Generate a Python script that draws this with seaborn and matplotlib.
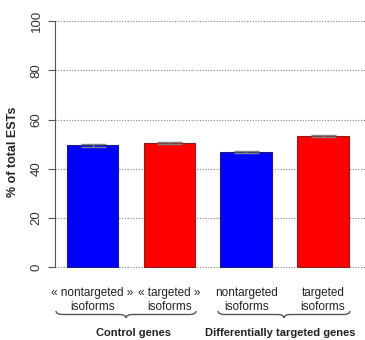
import numpy as np
import pandas as pd
import matplotlib
matplotlib.use("Agg")
import matplotlib.pyplot as plt
from matplotlib.path import Path
from matplotlib.patches import PathPatch
import seaborn as sns

# --- data ---
categories = ["\u00ab nontargeted \u00bb\nisoforms", "\u00ab targeted \u00bb\nisoforms",
              "nontargeted\nisoforms", "targeted\nisoforms"]
pct_ests = [49.5, 50.6, 46.8, 53.4]
err = [0.5, 0.5, 0.3, 0.5]
bar_colors = ["#0000ff", "#ff0000", "#0000ff", "#ff0000"]
edge_colors = ["#1a1a80", "#8b1a1a", "#1a1a80", "#8b1a1a"]
groups = ["Control genes", "Differentially targeted genes"]
yticks = [0, 20, 40, 60, 80, 100]

sns.set_style("white")
plt.rcParams['font.family'] = ['Liberation Sans', 'DejaVu Sans']

W, H = 365, 340
fig = plt.figure(figsize=(W / 100, H / 100), dpi=100)
ax = fig.add_axes([55 / W, 1 - 268 / H, 1 - 55 / W, 248 / H])

df = pd.DataFrame({"cat": categories, "pct": pct_ests})
sns.barplot(data=df, x="cat", y="pct", hue="cat", palette=bar_colors,
            saturation=1, legend=False, width=0.67, ax=ax, zorder=3)
for p, ec in zip(ax.patches, edge_colors):
    p.set_edgecolor(ec)
    p.set_linewidth(0.8)
ax.errorbar(range(len(pct_ests)), pct_ests, yerr=err, fmt="none",
            ecolor="#808080", elinewidth=1, capsize=9, capthick=1, zorder=4)

ax.set_xlim(-0.49, 3.55)
ax.set_ylim(-0.3, 100.5)
ax.set_yticks(yticks)
ax.set_yticklabels([str(t) for t in yticks], rotation=90, va="center",
                   fontsize=9.5, color="#333333")
for t in yticks:
    ax.axhline(t, color="#808080", lw=0.8, ls=(0, (1, 1.5)), zorder=1)

for s in ["top", "right", "bottom"]:
    ax.spines[s].set_visible(False)
ax.spines["left"].set_bounds(0, 100)
ax.spines["left"].set_color("#555555")
ax.tick_params(axis="y", direction="out", length=5, color="#555555", pad=4, left=True)
ax.tick_params(axis="x", length=0, pad=14)
ax.set_xticks(range(len(categories)))
ax.set_xticklabels(categories, fontsize=8.5, color="#222222", linespacing=1.15)
ax.set_xlabel("")
ax.set_ylabel("% of total ESTs", fontsize=9, fontweight="bold")
ax.yaxis.set_label_coords(-36 / 310, 0.47)

# overlay in pixel coords for braces and group labels
ov = fig.add_axes([0, 0, 1, 1], facecolor="none")
ov.set_xlim(0, W)
ov.set_ylim(H, 0)
ov.axis("off")


def brace(x0, x1, xm, y0, h=7, r=7):
    ym = y0 + h / 2
    verts = [(x0, y0), (x0, ym), (x0 + r, ym),
             (xm - r, ym),
             (xm, ym), (xm, y0 + h),
             (xm, ym), (xm + r, ym),
             (x1 - r, ym),
             (x1, ym), (x1, y0)]
    codes = [Path.MOVETO, Path.CURVE3, Path.CURVE3,
             Path.LINETO,
             Path.CURVE3, Path.CURVE3,
             Path.CURVE3, Path.CURVE3,
             Path.LINETO,
             Path.CURVE3, Path.CURVE3]
    ov.add_patch(PathPatch(Path(verts, codes), fc="none", ec="#555555", lw=1))


brace(56, 196, 126, 311)
brace(218, 350, 284, 311)
ov.text(133, 333, groups[0], ha="center", va="center", fontsize=8,
        fontweight="bold", color="#222222")
ov.text(280, 333, groups[1], ha="center", va="center", fontsize=8,
        fontweight="bold", color="#222222")

fig.savefig("out.png", dpi=100)
